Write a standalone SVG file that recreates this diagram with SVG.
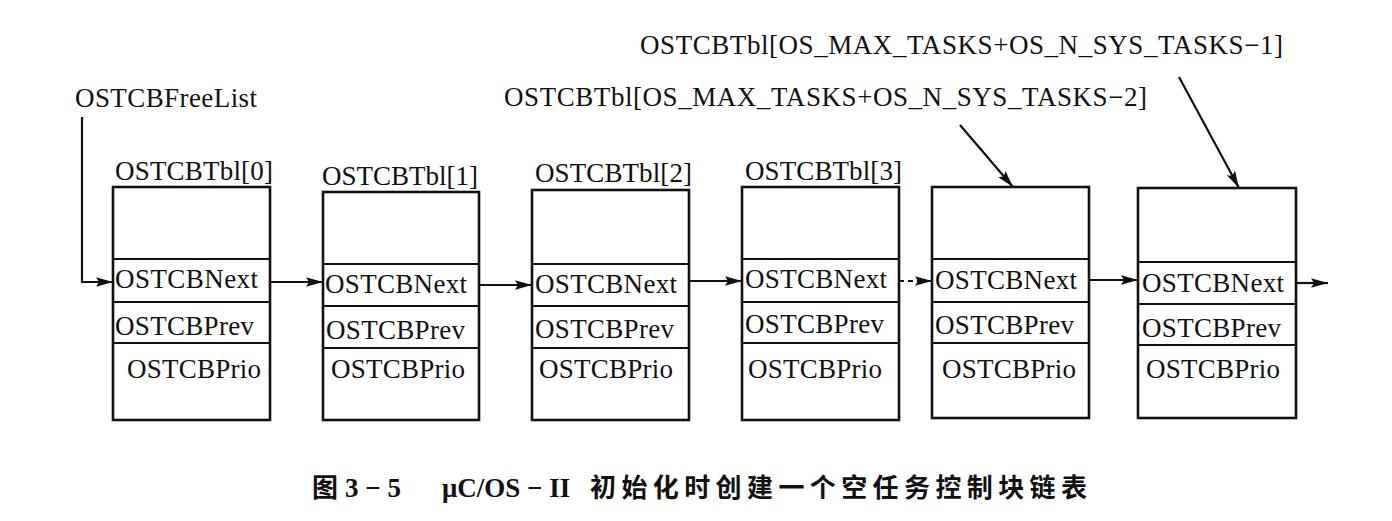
<svg xmlns="http://www.w3.org/2000/svg" width="1392" height="521" viewBox="0 0 1392 521">
<style>
.t{font-family:"Liberation Serif","Times New Roman",serif;font-size:27px;fill:#111}
.box{fill:#fff;stroke:#111;stroke-width:2.6}
.div{stroke:#111;stroke-width:2}
.conn{stroke:#111;stroke-width:2.2;fill:none}
.dash{stroke-dasharray:5 4}
.cap{font-weight:bold;fill:#111}
.capl{font-family:"Liberation Serif","Times New Roman",serif;font-size:27px}
.capc{font-family:"Noto Sans CJK SC","Noto Sans",sans-serif;font-size:26px}
</style>
<defs>
<marker id="ah" markerUnits="userSpaceOnUse" markerWidth="18" markerHeight="11" refX="17" refY="5.5" orient="auto">
<path d="M0,0.8 L17,5.5 L0,10.2 L3,5.5 Z" fill="#111"/>
</marker>
</defs>
<rect width="1392" height="521" fill="#fff"/>

<g id="freelist-label"><text class="t" x="75" y="107" textLength="182">OSTCBFreeList</text></g>
<g id="label-max1"><text class="t" x="640" y="54" textLength="643">OSTCBTbl[OS_MAX_TASKS+OS_N_SYS_TASKS−1]</text></g>
<g id="label-max2"><text class="t" x="504" y="106" textLength="643">OSTCBTbl[OS_MAX_TASKS+OS_N_SYS_TASKS−2]</text></g>

<g id="tcb0">
<text class="t" x="115" y="180" textLength="158">OSTCBTbl[0]</text>
<rect class="box" x="113" y="187" width="157" height="233"/>
<line class="div" x1="113" y1="259" x2="270" y2="259"/>
<line class="div" x1="113" y1="302" x2="270" y2="302"/>
<line class="div" x1="113" y1="343" x2="270" y2="343"/>
<text class="t" x="115" y="288" textLength="143">OSTCBNext</text>
<text class="t" x="115" y="335" textLength="139">OSTCBPrev</text>
<text class="t" x="127" y="378" textLength="134">OSTCBPrio</text>
</g>

<g id="tcb1">
<text class="t" x="322" y="185" textLength="156">OSTCBTbl[1]</text>
<rect class="box" x="323" y="192" width="156" height="228"/>
<line class="div" x1="323" y1="264" x2="479" y2="264"/>
<line class="div" x1="323" y1="306" x2="479" y2="306"/>
<line class="div" x1="323" y1="348" x2="479" y2="348"/>
<text class="t" x="325" y="293" textLength="142">OSTCBNext</text>
<text class="t" x="326" y="339" textLength="139">OSTCBPrev</text>
<text class="t" x="331" y="378" textLength="134">OSTCBPrio</text>
</g>

<g id="tcb2">
<text class="t" x="535" y="182" textLength="157">OSTCBTbl[2]</text>
<rect class="box" x="532" y="190" width="157" height="230"/>
<line class="div" x1="532" y1="264" x2="689" y2="264"/>
<line class="div" x1="532" y1="306" x2="689" y2="306"/>
<line class="div" x1="532" y1="348" x2="689" y2="348"/>
<text class="t" x="535" y="293" textLength="142">OSTCBNext</text>
<text class="t" x="535" y="338" textLength="139">OSTCBPrev</text>
<text class="t" x="539" y="378" textLength="134">OSTCBPrio</text>
</g>

<g id="tcb3">
<text class="t" x="745" y="180" textLength="157">OSTCBTbl[3]</text>
<rect class="box" x="742" y="187" width="157" height="233"/>
<line class="div" x1="742" y1="259" x2="899" y2="259"/>
<line class="div" x1="742" y1="302" x2="899" y2="302"/>
<line class="div" x1="742" y1="343" x2="899" y2="343"/>
<text class="t" x="745" y="288" textLength="142">OSTCBNext</text>
<text class="t" x="745" y="333" textLength="139">OSTCBPrev</text>
<text class="t" x="748" y="378" textLength="134">OSTCBPrio</text>
</g>

<g id="tcb4">
<rect class="box" x="932" y="187" width="157" height="231"/>
<line class="div" x1="932" y1="259" x2="1089" y2="259"/>
<line class="div" x1="932" y1="302" x2="1089" y2="302"/>
<line class="div" x1="932" y1="343" x2="1089" y2="343"/>
<text class="t" x="935" y="289" textLength="142">OSTCBNext</text>
<text class="t" x="935" y="334" textLength="139">OSTCBPrev</text>
<text class="t" x="942" y="378" textLength="134">OSTCBPrio</text>
</g>

<g id="tcb5">
<rect class="box" x="1138" y="188" width="158" height="230"/>
<line class="div" x1="1138" y1="262" x2="1296" y2="262"/>
<line class="div" x1="1138" y1="304" x2="1296" y2="304"/>
<line class="div" x1="1138" y1="345" x2="1296" y2="345"/>
<text class="t" x="1142" y="292" textLength="142">OSTCBNext</text>
<text class="t" x="1142" y="337" textLength="139">OSTCBPrev</text>
<text class="t" x="1146" y="378" textLength="134">OSTCBPrio</text>
</g>

<g id="connectors">
<path class="conn" d="M82,117 V282 H113" marker-end="url(#ah)"/>
<line class="conn" x1="270" y1="282" x2="323" y2="282" marker-end="url(#ah)"/>
<line class="conn" x1="479" y1="285" x2="532" y2="285" marker-end="url(#ah)"/>
<line class="conn" x1="689" y1="281" x2="742" y2="281" marker-end="url(#ah)"/>
<line class="conn dash" x1="899" y1="281" x2="932" y2="281" marker-end="url(#ah)"/>
<line class="conn" x1="1089" y1="280" x2="1138" y2="280" marker-end="url(#ah)"/>
<line class="conn" x1="1296" y1="283" x2="1328" y2="283" marker-end="url(#ah)"/>
<line class="conn" x1="960" y1="125" x2="1013" y2="187" marker-end="url(#ah)"/>
<line class="conn" x1="1179" y1="77" x2="1239" y2="188" marker-end="url(#ah)"/>
</g>

<g id="caption" class="cap">
<text class="capc" x="312" y="497">图</text>
<text class="capl" x="345" y="497">3 − 5</text>
<text class="capl" x="442" y="497">μC/OS − II</text>
<text class="capc" x="590" y="497" letter-spacing="5.4">初始化时创建一个空任务控制块链表</text>
</g>
</svg>
